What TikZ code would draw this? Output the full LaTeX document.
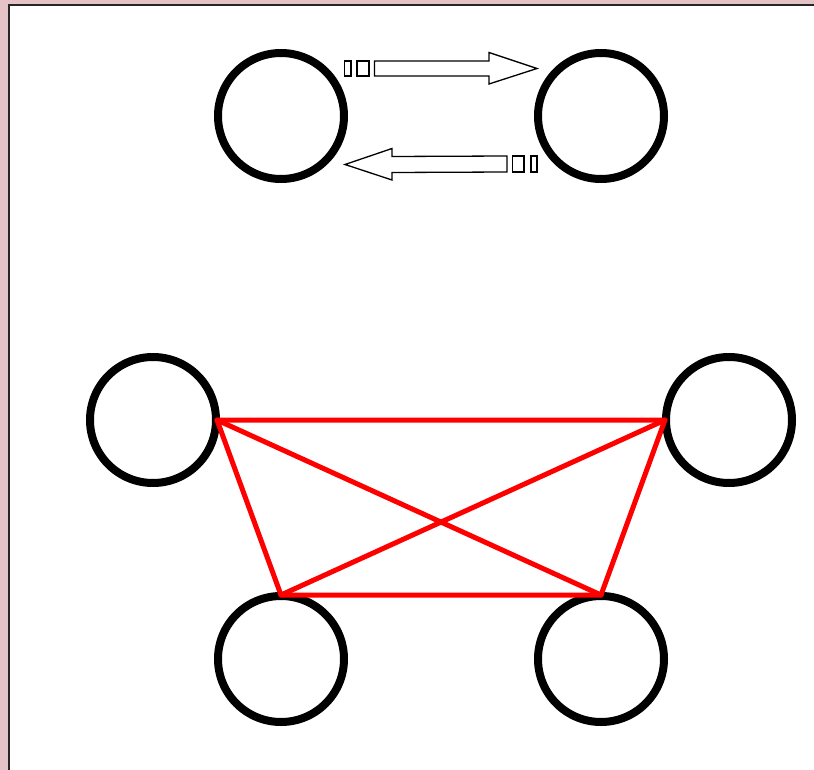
\documentclass[tikz,border=0pt]{standalone}
\usepackage{tikz}

\definecolor{framepink}{HTML}{E4C2C5}
\definecolor{edgered}{HTML}{FF0000}

\tikzset{
  peer/.style={circle, draw=black, line width=8pt, minimum size=126pt, inner sep=0pt, fill=none},
  link/.style={draw=edgered, line width=5pt, line cap=round, line join=round},
  flowarrow/.style={draw=black, line width=1.3pt, fill=white, line join=miter},
}

\begin{document}
\begin{tikzpicture}[x=1pt, y=-1pt]

  %% ==== background and frame ====
  \fill[framepink] (0,0) rectangle (814,770);
  \filldraw[fill=white, draw=black!85, line width=2pt] (9,5) rectangle (830,790);

  %% ==== circles ====
  \node[peer] (tl) at (281,116) {};
  \node[peer] (tr) at (601,116) {};
  \node[peer] (ml) at (153,420) {};
  \node[peer] (mr) at (729,420) {};
  \node[peer] (bl) at (281,659) {};
  \node[peer] (br) at (601,659) {};

  %% ==== red links ====
  \coordinate (pA) at ([xshift=-3pt]ml.east);
  \coordinate (pB) at ([xshift=3pt]mr.west);
  \coordinate (pC) at ([yshift=-3pt]bl.north);
  \coordinate (pD) at ([yshift=-3pt]br.north);
  \draw[link] (pA) -- (pB) -- (pD) -- (pC) -- cycle;
  \draw[link] (pA) -- (pD);
  \draw[link] (pB) -- (pC);

  %% ==== arrows between top circles ====
  % right arrow, tl -> tr
  \draw[flowarrow] (344.5,61) rectangle (351,76);
  \draw[flowarrow] (357,61) rectangle (369,76);
  \draw[flowarrow] (374.5,61) -- (489,61) -- (489,52.5) -- (537,68.5)
    -- (489,84) -- (489,76) -- (374.5,76) -- cycle;
  % left arrow, tr -> tl
  \draw[flowarrow] (531,156) rectangle (537,172);
  \draw[flowarrow] (512.5,156) rectangle (524,172);
  \draw[flowarrow] (507,156) -- (392,156.5) -- (392,148.5) -- (345,164.5)
    -- (392,180) -- (392,172.5) -- (507,172) -- cycle;

  \pgfresetboundingbox
  \path[use as bounding box] (0,0) rectangle (814,770);
\end{tikzpicture}
\end{document}
